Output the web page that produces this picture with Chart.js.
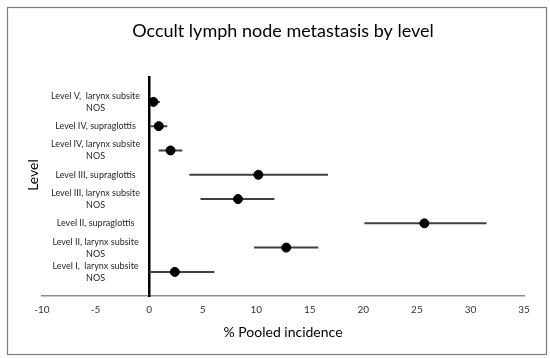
<!DOCTYPE html>
<html><head><meta charset="utf-8">
<script src="https://cdn.jsdelivr.net/npm/chart.js@4.4.1/dist/chart.umd.min.js"></script>
<style>html,body{margin:0;padding:0;background:#fff}</style>
</head><body>
<canvas id="c" width="550" height="358"></canvas>
<script>
// Rows from bottom (1) to top (8)
const levelLabels = [
  ["Level I,  larynx subsite", "NOS"],
  ["Level II, larynx subsite", "NOS"],
  ["Level II, supraglottis"],
  ["Level III, larynx subsite", "NOS"],
  ["Level III, supraglottis"],
  ["Level IV, larynx subsite", "NOS"],
  ["Level IV, supraglottis"],
  ["Level V,  larynx subsite", "NOS"]
];
const estimates = [2.4, 12.8, 25.7, 8.3, 10.2, 2.0, 0.9, 0.4];
const lowerCI   = [0.0, 9.8, 20.1, 4.8, 3.75, 0.9, 0.1, 0.0];
const upperCI   = [6.1, 15.8, 31.5, 11.7, 16.7, 3.1, 1.7, 1.0];
const xTicks = [-10, -5, 0, 5, 10, 15, 20, 25, 30, 35];

const FONT = 'Lato, "Open Sans", sans-serif';
Chart.defaults.font.family = FONT;

const errorSets = levelLabels.map((_, i) => ({
  type: 'line',
  data: [{x: lowerCI[i], y: i + 1}, {x: upperCI[i], y: i + 1}],
  borderColor: '#404040',
  borderWidth: 2,
  pointRadius: 0,
  showLine: true,
  fill: false,
  order: 2
}));
const pointSet = {
  type: 'scatter',
  data: estimates.map((v, i) => ({x: v, y: i + 1})),
  pointRadius: 4.5,
  backgroundColor: '#000',
  borderColor: '#000',
  order: 1
};

const framePlugin = {
  id: 'frame',
  beforeDraw(chart) {
    const ctx = chart.ctx;
    ctx.save();
    ctx.fillStyle = '#fff';
    ctx.fillRect(0, 0, chart.width, chart.height);
    ctx.strokeStyle = '#7f7f7f';
    ctx.lineWidth = 1.2;
    ctx.strokeRect(7.5, 7.5, 539, 347);
    ctx.restore();
  }
};

const labelPlugin = {
  id: 'levelLabels',
  afterDraw(chart) {
    const {ctx, scales: {x, y}} = chart;
    ctx.save();
    ctx.font = '9px ' + FONT;
    ctx.fillStyle = '#262626';
    ctx.textAlign = 'center';
    ctx.textBaseline = 'middle';
    const cx = x.getPixelForValue(-5);
    levelLabels.forEach((lines, i) => {
      const yc = y.getPixelForValue(i + 1);
      const n = lines.length;
      lines.forEach((t, j) => ctx.fillText(t, cx, yc + (j - (n - 1) / 2) * 12));
    });
    ctx.translate(33, 175);
    ctx.rotate(-Math.PI / 2);
    ctx.font = '14px ' + FONT;
    ctx.fillStyle = '#000';
    ctx.fillText('Level', 0, 0);
    ctx.restore();
  }
};

new Chart(document.getElementById('c'), {
  type: 'scatter',
  data: { datasets: [pointSet, ...errorSets] },
  options: {
    responsive: false,
    animation: false,
    layout: { padding: { left: 42, right: 26, top: 0, bottom: 17 } },
    plugins: {
      legend: { display: false },
      tooltip: { enabled: false },
      title: {
        display: true,
        text: 'Occult lymph node metastasis by level',
        color: '#000',
        font: { size: 18, weight: 'normal' },
        padding: { top: 20, bottom: 36 }
      }
    },
    scales: {
      x: {
        type: 'linear',
        position: 'bottom',
        min: -10, max: 35,
        afterBuildTicks: s => { s.ticks = xTicks.map(v => ({value: v})); },
        ticks: { color: '#333', font: { size: 10 }, padding: 8, maxRotation: 0 },
        grid: { display: false, drawTicks: false },
        border: { display: true, color: '#8c8c8c', width: 1.5 },
        title: { display: true, text: '% Pooled incidence', color: '#000', font: { size: 14 }, padding: { top: 0, bottom: 0 } }
      },
      y: {
        type: 'linear',
        position: { x: 0 },
        min: 0, max: 9,
        ticks: { display: false },
        grid: { display: false, drawTicks: false },
        border: { display: true, color: '#000', width: 2.5 }
      }
    }
  },
  plugins: [framePlugin, labelPlugin]
});
</script>
</body></html>
